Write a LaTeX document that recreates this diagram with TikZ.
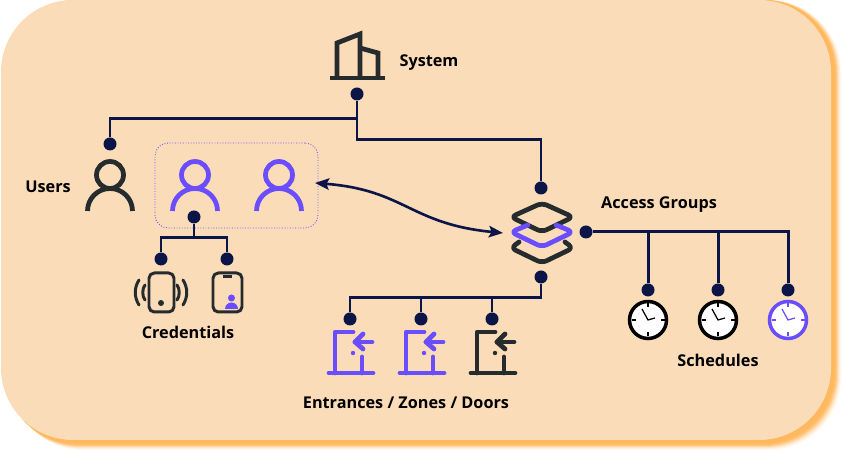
\documentclass[tikz,border=0pt]{standalone}
\usepackage{fontspec}
\setmainfont{Open Sans}
\usepackage{xcolor}
\usetikzlibrary{arrows.meta}

\definecolor{cardfill}{HTML}{FADCB9}
\definecolor{cardshadow}{HTML}{FFB85E}
\definecolor{navy}{HTML}{0B1547}
\definecolor{inkdark}{HTML}{262B2E}
\definecolor{accent}{HTML}{6A4DFF}

\tikzset{
  linkline/.style={navy, line width=1.7pt},
  pin/.style={circle, fill=navy, inner sep=0pt, minimum size=7.4pt},
  caption/.style={font=\bfseries\fontsize{9.25}{11}\selectfont, text=black, inner sep=0pt},
  icon/.style={line width=2.7pt, line cap=round, line join=round},
  thinicon/.style={line width=1.7pt, line cap=round, line join=round},
  usericon/.pic={
    \draw[icon, #1] (0,36) circle [radius=13.5];
    \draw[icon, line cap=butt, #1] (-22.5,0) arc [start angle=180, end angle=0, radius=22.5];
  },
  dooricon/.pic={
    \draw[icon, #1] (-6,0) -- (38,0);
    \draw[icon, #1] (0,0) -- (0,41) -- (18,41);
    \draw[icon, #1] (27,0) -- (27,16);
    \fill[#1] (18,20) circle [radius=2.2];
    \draw[icon, #1] (37,31) -- (20,31);
    \draw[icon, #1] (28,39) -- (20,31) -- (28,24);
  },
  clockicon/.pic={
    \draw[#1, line width=2pt, fill=white] (0,0) circle [radius=18.5];
    \foreach \a in {0,90,180,270} {
      \draw[#1, line width=0.6pt] (\a:16.5) -- (\a:12.5);
    }
    \draw[#1, line width=0.7pt] (-6,11) -- (0,0) -- (7,2);
  }
}

\begin{document}
\begin{tikzpicture}[x=0.02cm, y=0.02cm]
\useasboundingbox (0,0) rectangle (842,452);

% card and its soft shadow
\foreach \d/\o in {10/0.08, 9/0.14, 8/0.2, 7/0.3, 6/0.45, 5/0.65, 4/0.85, 3/1} {
  \fill[cardshadow, opacity=\o, rounded corners=1.44cm] (1+\d,12-\d) rectangle (831+\d,452);
}
\fill[cardfill, rounded corners=1.44cm] (1,12) rectangle (831,452);

% dotted group round the two users
\node[draw=accent, densely dotted, line width=0.5pt, rounded corners=0.26cm, inner sep=0pt,
  minimum width=3.26cm, minimum height=1.7cm] (userbox) at (236.5,266.5) {};

% icons
% building
\draw[icon, line cap=butt, inkdark] (330,374) -- (385,374);
\draw[icon, line cap=butt, inkdark, line join=miter] (337,374) -- (337,409) -- (360,418) -- (360,374);
\draw[icon, line cap=butt, inkdark, line join=miter] (360,404) -- (378,399) -- (378,374);

\pic at (110,241) {usericon=inkdark};
\pic at (195,241) {usericon=accent};
\pic at (279,241) {usericon=accent};

% layers
\draw[icon, inkdark, rounded corners=3pt] (542,249) -- (511,235) -- (542,220) -- (573,235) -- cycle;
\draw[icon, inkdark, rounded corners=3pt] (519,210) -- (511,204) -- (542,189) -- (573,204) -- (565,210);
\draw[icon, accent, rounded corners=3pt] (528,227) -- (511,220) -- (542,205) -- (573,220) -- (556,227);

% phones
\draw[thinicon, inkdark, rounded corners=3pt] (149,179) rectangle (174,140);
\fill[inkdark] (161,149) circle [radius=3];
\draw[thinicon, inkdark] (139,172) .. controls (134,164) and (134,155) .. (139,147);
\draw[thinicon, inkdark] (145,167) .. controls (142,163) and (142,156) .. (145,152);
\draw[thinicon, inkdark] (183,172) .. controls (188,164) and (188,155) .. (183,147);
\draw[thinicon, inkdark] (177,167) .. controls (180,163) and (180,156) .. (177,152);

\draw[thinicon, inkdark, rounded corners=3pt] (213,179) rectangle (242,140);
\draw[thinicon, inkdark, line cap=butt] (223,175) -- (232,175);
\fill[accent] (231.5,154) circle [radius=3.5];
\fill[accent] (225,143) arc [start angle=180, end angle=0, radius=6.5] -- cycle;

\pic at (335,79) {dooricon=accent};
\pic at (406,79) {dooricon=accent};
\pic at (477,79) {dooricon=inkdark};

\pic at (648,132) {clockicon=black};
\pic at (718,132) {clockicon=black};
\pic at (788,132) {clockicon=accent};

% pins
\node[pin] (sys) at (357,358) {};
\node[pin] (usr) at (110,308) {};
\node[pin] (cred) at (194,235) {};
\node[pin] (credA) at (161,193) {};
\node[pin] (credB) at (227,193) {};
\node[pin] (grpT) at (541,264) {};
\node[pin] (grpR) at (586,220) {};
\node[pin] (grpB) at (541,175) {};
\node[pin] (doorA) at (350,133) {};
\node[pin] (doorB) at (421,133) {};
\node[pin] (doorC) at (492,133) {};
\node[pin] (schA) at (648,162) {};
\node[pin] (schB) at (718,162) {};
\node[pin] (schC) at (788,162) {};

\coordinate (sysJ) at (357,333);
\coordinate (sysK) at (357,312);
\coordinate (credJ) at (194,214);
\coordinate (grpJ) at (541,154);
\coordinate (arrL) at (315,269);
\coordinate (arrR) at (503,219);

% connectors
\draw[linkline] (sys) -- (sysK) -| (grpT);
\draw[linkline] (sysJ) -| (usr);
\draw[linkline] (cred) -- (credJ);
\draw[linkline] (credA) |- (credJ) -| (credB);
\draw[linkline] (grpB) -- (grpJ) -| (doorA);
\draw[linkline] (doorB) -- (doorB |- grpJ);
\draw[linkline] (doorC) -- (doorC |- grpJ);
\draw[linkline] (grpR) -| (schC);
\draw[linkline] (schA) -- (schA |- grpR);
\draw[linkline] (schB) -- (schB |- grpR);

\draw[navy, line width=1.5pt, {Stealth[inset=1.5pt,length=8pt,width=6.5pt]}-{Stealth[inset=1.5pt,length=8pt,width=6.5pt]}]
  (arrL) .. controls (405,262) and (410,228) .. (arrR);

% labels
\node[caption] (lblSys) at (429,389.5) {System};
\node[caption] (lblUsr) at (48,265.5) {Users};
\node[caption] (lblCred) at (188,119.5) {Credentials};
\node[caption] (lblGrp) at (659,247.5) {Access Groups};
\node[caption] (lblSch) at (718,91.5) {Schedules};
\node[caption] (lblDoor) at (406,49.5) {Entrances / Zones / Doors};

\end{tikzpicture}
\end{document}
